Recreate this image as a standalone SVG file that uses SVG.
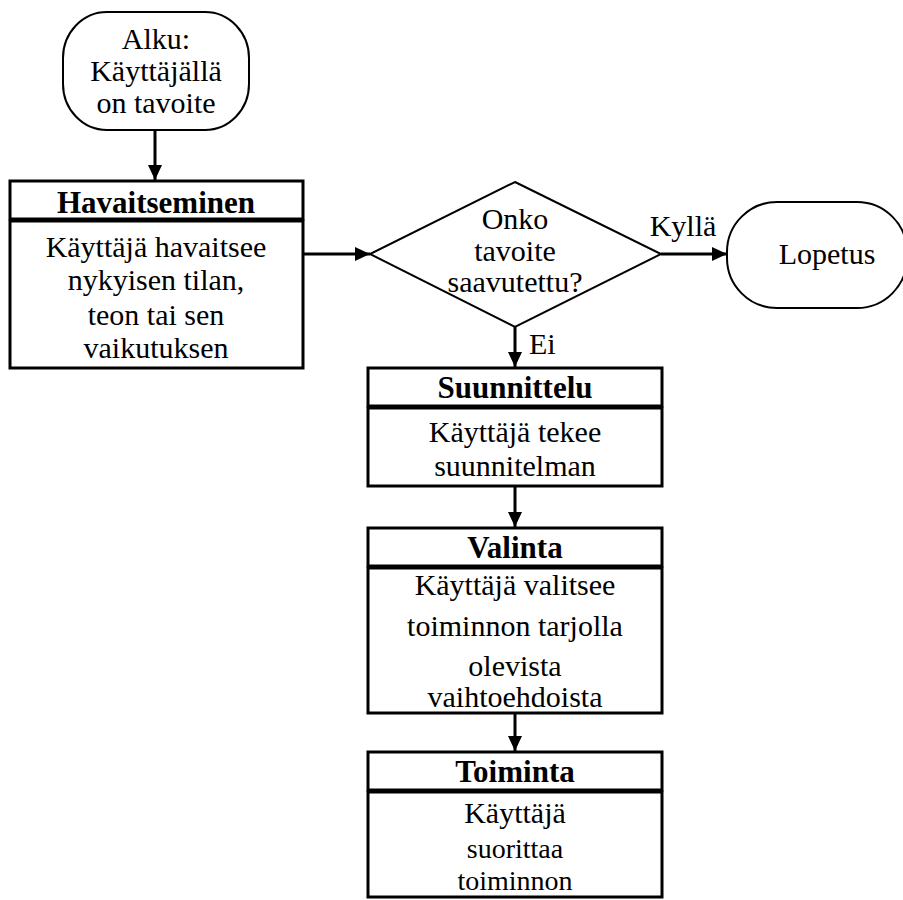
<svg xmlns="http://www.w3.org/2000/svg" width="903" height="900" viewBox="0 0 903 900">
<defs>
<marker id="arr" markerUnits="userSpaceOnUse" markerWidth="16" markerHeight="14" refX="15" refY="7" orient="auto">
<path d="M0,0 L15,7 L0,14 Z" fill="#000"/>
</marker>
<style>
text{font-family:"Liberation Serif","Times New Roman",serif;font-size:30px;fill:#000;text-anchor:middle}
.h{font-weight:bold;font-size:31px}
.s{font-size:28px}
.box{fill:#fff;stroke:#000;stroke-width:3}
.term{fill:#fff;stroke:#000;stroke-width:2}
.conn{stroke:#000;stroke-width:3;fill:none;marker-end:url(#arr)}
</style>
</defs>
<rect width="903" height="900" fill="#fff"/>
<g id="connectors">
<line class="conn" x1="155" y1="130" x2="155" y2="180"/>
<line class="conn" x1="303" y1="254" x2="370" y2="254"/>
<line class="conn" x1="661" y1="254" x2="727" y2="254"/>
<line class="conn" x1="515" y1="327" x2="515" y2="367"/>
<line class="conn" x1="515" y1="486" x2="515" y2="527"/>
<line class="conn" x1="515" y1="713" x2="515" y2="751"/>
<text x="683" y="236">Kyllä</text>
<text x="529" y="354" style="text-anchor:start">Ei</text>
</g>
<g id="start">
<rect class="term" x="63" y="12" width="186" height="118" rx="44" ry="46"/>
<text x="156" y="49">Alku:</text>
<text x="156" y="81">Käyttäjällä</text>
<text x="156" y="113">on tavoite</text>
</g>
<g id="havaitseminen">
<rect class="box" x="10" y="181" width="293" height="38"/>
<rect class="box" x="10" y="221" width="293" height="147"/>
<text class="h" x="156" y="213">Havaitseminen</text>
<text x="156" y="257">Käyttäjä havaitsee</text>
<text x="156" y="290">nykyisen tilan,</text>
<text x="156" y="325">teon tai sen</text>
<text x="156" y="358">vaikutuksen</text>
</g>
<g id="decision">
<polygon class="term" points="515,182 661,254 515,327 370,254"/>
<text x="515" y="229">Onko</text>
<text x="515" y="261">tavoite</text>
<text x="515" y="292">saavutettu?</text>
</g>
<g id="lopetus">
<rect class="term" x="727" y="202" width="180" height="106" rx="50" ry="50"/>
<text x="827" y="264">Lopetus</text>
</g>
<g id="suunnittelu">
<rect class="box" x="368" y="368" width="294" height="38"/>
<rect class="box" x="368" y="408" width="294" height="78"/>
<text class="h" x="515" y="398">Suunnittelu</text>
<text x="515" y="442">Käyttäjä tekee</text>
<text x="515" y="476">suunnitelman</text>
</g>
<g id="valinta">
<rect class="box" x="368" y="528" width="294" height="38"/>
<rect class="box" x="368" y="568" width="294" height="145"/>
<text class="h" x="515" y="558">Valinta</text>
<text x="515" y="595">Käyttäjä valitsee</text>
<text x="515" y="636">toiminnon tarjolla</text>
<text x="515" y="676">olevista</text>
<text x="515" y="707">vaihtoehdoista</text>
</g>
<g id="toiminta">
<rect class="box" x="368" y="752" width="294" height="38"/>
<rect class="box" x="368" y="792" width="294" height="105"/>
<text class="h" x="515" y="782">Toiminta</text>
<text x="515" y="823">Käyttäjä</text>
<text class="s" x="515" y="858">suorittaa</text>
<text class="s" x="515" y="890">toiminnon</text>
</g>
</svg>
